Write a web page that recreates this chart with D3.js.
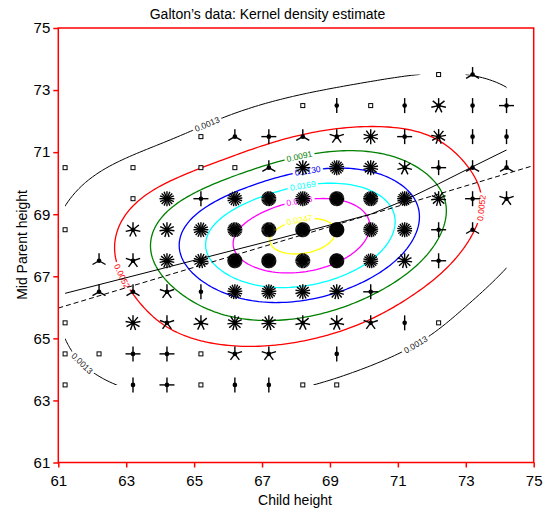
<!DOCTYPE html>
<html>
<head>
<meta charset="utf-8">
<script src="https://cdn.jsdelivr.net/npm/d3@7"></script>
<style>
  body { margin: 0; background: #fff; }
  text { font-family: Arial, "Liberation Sans", sans-serif; }
</style>
</head>
<body>
<div id="chart"></div>
<script>
// Galton's table: child height (columns) by mid-parent height (rows, low to high)
const childHeights = [61.2, 62.2, 63.2, 64.2, 65.2, 66.2, 67.2, 68.2, 69.2, 70.2, 71.2, 72.2, 73.2, 74.2];
const parentHeights = [63.5, 64.5, 65.5, 66.5, 67.5, 68.5, 69.5, 70.5, 71.5, 72.5, 73.5];
const counts = [
  [1, 0, 2, 4, 1, 2, 2, 1, 1, 0, 0, 0, 0, 0],
  [1, 1, 4, 4, 1, 5, 5, 0, 2, 0, 0, 0, 0, 0],
  [1, 0, 9, 5, 7, 11, 11, 7, 7, 5, 2, 1, 0, 0],
  [0, 3, 3, 5, 2, 17, 17, 14, 13, 4, 0, 0, 0, 0],
  [0, 3, 5, 14, 15, 36, 38, 28, 38, 19, 11, 4, 0, 0],
  [1, 0, 7, 11, 16, 25, 31, 34, 48, 21, 18, 4, 3, 0],
  [0, 0, 1, 16, 4, 17, 27, 20, 33, 25, 20, 11, 4, 5],
  [1, 0, 1, 0, 1, 1, 3, 12, 18, 14, 7, 4, 3, 3],
  [0, 0, 0, 0, 1, 3, 4, 3, 5, 10, 4, 9, 2, 2],
  [0, 0, 0, 0, 0, 0, 0, 1, 2, 1, 2, 7, 2, 4],
  [0, 0, 0, 0, 0, 0, 0, 0, 0, 0, 0, 1, 3, 0]
];

// smoothed fit of parent on child, read at each child column
const smoothFit = [66.45, 66.73, 67.01, 67.29, 67.57, 67.85, 68.13, 68.42, 68.71, 69.00, 69.45, 69.98, 70.53, 71.07];

// contour levels as labelled; they are 5%, 20%, ... 95% of the peak density
const contourLevels = [0.0013, 0.0052, 0.0091, 0.0130, 0.0169, 0.0208, 0.0247];
const peakDensity = 0.026;
const contourColors = ['#000000', '#ff0000', '#008000', '#0000ff', '#00ffff', '#ff00ff', '#ffff00'];

const xTicks = [61, 63, 65, 67, 69, 71, 73, 75];
const yTicks = [61, 63, 65, 67, 69, 71, 73, 75];

// where each contour label sits (child, parent)
const labelSpots = [
  [0.0013, 65.3, 72.1], [0.0013, 61.6, 64.0], [0.0013, 72.0, 64.0],
  [0.0052, 62.4, 66.8], [0.0052, 73.5, 69.2],
  [0.0091, 68.0, 71.2], [0.0130, 68.3, 70.6], [0.0169, 68.2, 70.0],
  [0.0208, 68.1, 69.5], [0.0247, 68.1, 68.8]
];

const W = 548, H = 510;
const x = d3.scaleLinear().domain([61, 75]).range([58.3, 533.7]);
const y = d3.scaleLinear().domain([61, 75]).range([462.5, 28]);

const svg = d3.select('#chart').append('svg')
  .attr('width', W).attr('height', H);

// ---- kernel density estimate on the data range ----
const hx = 1.75, hy = 1.0, step = 0.1;
const gx0 = childHeights[0], gx1 = childHeights[childHeights.length - 1];
const gy0 = parentHeights[0], gy1 = parentHeights[parentHeights.length - 1];
const nx = Math.round((gx1 - gx0) / step) + 1;
const ny = Math.round((gy1 - gy0) / step) + 1;

const pts = [];
parentHeights.forEach((p, ri) => childHeights.forEach((c, ci) => {
  if (counts[ri][ci] > 0) pts.push({c, p, n: counts[ri][ci]});
}));
const total = d3.sum(pts, d => d.n);

const norm = 1 / (2 * Math.PI * hx * hy * total);
const values = new Float64Array(nx * ny);
for (let j = 0; j < ny; j++) {
  const gy = gy0 + j * step;
  for (let i = 0; i < nx; i++) {
    const gx = gx0 + i * step;
    let s = 0;
    pts.forEach(d => {
      const u = (gx - d.c) / hx, v = (gy - d.p) / hy;
      s += d.n * Math.exp(-0.5 * (u * u + v * v));
    });
    values[i + j * nx] = s * norm;
  }
}
const maxDensity = d3.max(values);
const thresholds = contourLevels.map(v => v / peakDensity * maxDensity);

const contours = d3.contours().size([nx, ny]).thresholds(thresholds)(values);
const toPx = (cx, cy) => [x(gx0 + (cx - 0.5) * step), y(gy0 + (cy - 0.5) * step)];
const path = d3.geoPath(d3.geoTransform({
  point(cx, cy) { const p = toPx(cx, cy); this.stream.point(p[0], p[1]); }
}));

svg.append('clipPath').attr('id', 'grid-clip')
  .append('rect')
    .attr('x', x(gx0)).attr('y', y(gy1))
    .attr('width', x(gx1) - x(gx0)).attr('height', y(gy0) - y(gy1));

svg.append('clipPath').attr('id', 'frame-clip')
  .append('rect')
    .attr('x', x(61)).attr('y', y(75))
    .attr('width', x(75) - x(61)).attr('height', y(61) - y(75));

svg.append('g').attr('clip-path', 'url(#grid-clip)')
  .selectAll('path')
  .data(contours)
  .enter().append('path')
    .attr('d', path)
    .attr('fill', 'none')
    .attr('stroke', (d, i) => contourColors[i])
    .attr('stroke-width', (d, i) => i === 0 ? 1 : 1.3);

// ---- contour labels ----
const labels = svg.append('g');
labelSpots.forEach(([lev, lx, ly]) => {
  const k = contourLevels.indexOf(lev);
  const tx = x(lx), ty = y(ly);
  let best = null;
  contours[k].coordinates.forEach(poly => poly.forEach(ring => {
    const rp = ring.map(p => toPx(p[0], p[1]));
    rp.forEach((p, i) => {
      if (p[0] < x(gx0) || p[0] > x(gx1) || p[1] < y(gy1) || p[1] > y(gy0)) return;
      const dd = (p[0] - tx) ** 2 + (p[1] - ty) ** 2;
      if (!best || dd < best.dd) best = {dd, rp, i};
    });
  }));
  if (!best) return;
  const n = best.rp.length;
  const a = best.rp[(best.i - 2 + n) % n], b = best.rp[(best.i + 2) % n];
  let ang = Math.atan2(b[1] - a[1], b[0] - a[0]) * 180 / Math.PI;
  if (ang > 90) ang -= 180;
  if (ang <= -90) ang += 180;
  const p = best.rp[best.i];
  const g = labels.append('g')
    .attr('transform', `translate(${p[0]},${p[1]}) rotate(${ang})`);
  const label = d3.format('.4f')(lev);
  const tw = label.length * 4.6;
  g.append('rect')
    .attr('x', -tw / 2 - 1.5).attr('y', -4.5)
    .attr('width', tw + 3).attr('height', 9)
    .attr('fill', '#fff');
  g.append('text')
    .attr('text-anchor', 'middle')
    .attr('dy', '0.35em')
    .attr('font-size', 8.5)
    .attr('fill', k === 0 ? '#222' : contourColors[k])
    .text(label);
});

// ---- regression line and smooth ----
const mx = d3.sum(pts, d => d.n * d.c) / total;
const my = d3.sum(pts, d => d.n * d.p) / total;
const slope = d3.sum(pts, d => d.n * (d.c - mx) * (d.p - my)) / d3.sum(pts, d => d.n * (d.c - mx) ** 2);

const lines = svg.append('g').attr('clip-path', 'url(#frame-clip)');
lines.append('path')
  .datum([61, 75])
  .attr('d', d3.line().x(d => x(d)).y(d => y(my + slope * (d - mx))))
  .attr('fill', 'none').attr('stroke', '#000')
  .attr('stroke-width', 1).attr('stroke-dasharray', '5,3');

lines.append('path')
  .datum(childHeights)
  .attr('d', d3.line().x(d => x(d)).y((d, i) => y(smoothFit[i])))
  .attr('fill', 'none').attr('stroke', '#000').attr('stroke-width', 1);

// ---- sunflowers ----
const petal = 7.5;
const flowers = svg.append('g').selectAll('g')
  .data(pts)
  .enter().append('g')
    .attr('transform', d => `translate(${x(d.c)},${y(d.p)})`);

flowers.filter(d => d.n === 1).append('rect')
  .attr('x', -2).attr('y', -2).attr('width', 4).attr('height', 4)
  .attr('fill', '#fff').attr('stroke', '#000').attr('stroke-width', 1);

const multi = flowers.filter(d => d.n > 1);
multi.append('circle').attr('r', 2.3).attr('fill', '#000');
multi.selectAll('line')
  .data(d => d3.range(d.n).map(k => Math.PI / 2 + k * 2 * Math.PI / d.n))
  .enter().append('line')
    .attr('x2', a => petal * Math.cos(a))
    .attr('y2', a => -petal * Math.sin(a))
    .attr('stroke', '#000').attr('stroke-width', 1.4);

// ---- axes and frame ----
const xAxis = svg.append('g')
  .attr('transform', `translate(0,${y(61)})`)
  .call(d3.axisBottom(x).tickValues(xTicks).tickFormat(d3.format('d')).tickSize(5).tickPadding(8));
const yAxis = svg.append('g')
  .attr('transform', `translate(${x(61)},0)`)
  .call(d3.axisLeft(y).tickValues(yTicks).tickFormat(d3.format('d')).tickSize(5).tickPadding(3));

[xAxis, yAxis].forEach(ax => {
  ax.select('.domain').remove();
  ax.selectAll('.tick line').attr('stroke', '#ff0000').attr('stroke-width', 1.5);
  ax.selectAll('.tick text').attr('fill', '#000').attr('font-size', 15)
    .attr('font-family', 'Arial, "Liberation Sans", sans-serif');
});

svg.append('rect')
  .attr('x', x(61)).attr('y', y(75))
  .attr('width', x(75) - x(61)).attr('height', y(61) - y(75))
  .attr('fill', 'none').attr('stroke', '#ff0000').attr('stroke-width', 1.5);

svg.append('text')
  .attr('x', 267.5).attr('y', 19)
  .attr('text-anchor', 'middle').attr('font-size', 14)
  .text('Galton\u2019s data: Kernel density estimate');

svg.append('text')
  .attr('x', 295).attr('y', 505)
  .attr('text-anchor', 'middle').attr('font-size', 14)
  .text('Child height');

svg.append('text')
  .attr('transform', 'translate(26.5,245) rotate(-90)')
  .attr('text-anchor', 'middle').attr('font-size', 14)
  .text('Mid Parent height');
</script>
</body>
</html>
